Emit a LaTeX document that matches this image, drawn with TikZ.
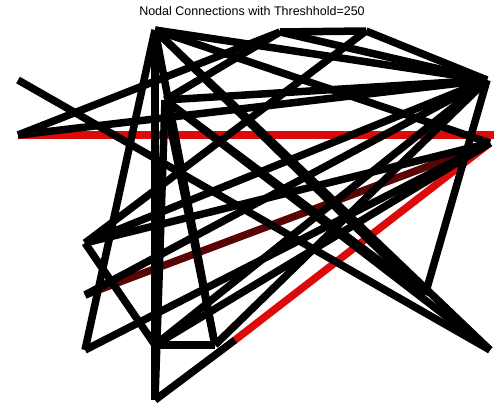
\documentclass[tikz,border=0pt]{standalone}
\usepackage{fontspec}
\setmainfont{Liberation Sans}
\usepackage{tikz}

\definecolor{linkred}{RGB}{220,10,10}
\definecolor{linkdark}{RGB}{90,5,5}

\begin{document}
\begin{tikzpicture}[
    x=1pt, y=-1pt,
    link/.style     = {line width=7.5pt, black},
    hotlink/.style  = {link, draw=linkred},
    warmlink/.style = {link, draw=linkdark},
    title/.style    = {font=\fontsize{12.5}{14}\selectfont, text=black}
]
\useasboundingbox (0,0) rectangle (494,404);

\node[title] (ttl) at (252,11) {Nodal Connections with Threshhold=250};

% ========= nodes =========
\coordinate (apex)  at (155,30);
\coordinate (topb)  at (280,32);
\coordinate (topc)  at (366,31);
\coordinate (hub)   at (487,80);
\coordinate (lefte) at (18,80);
\coordinate (leftf) at (18,135);
\coordinate (rgtg)  at (494,135);
\coordinate (rgth)  at (490,143);
\coordinate (lowi)  at (490,350);
\coordinate (midj)  at (425,295);
\coordinate (lfk)   at (85,243);
\coordinate (lfl)   at (85,295);
\coordinate (lfm)   at (85,350);
\coordinate (botn)  at (155,400);
\coordinate (boto)  at (215,345);
\coordinate (botp)  at (235,340);
\coordinate (inq)   at (165,100);
\coordinate (botr)  at (155,345);

% ========= coloured links (underneath) =========
\draw[warmlink] (lfl) -- (rgth);
\draw[hotlink] (leftf) -- (rgtg);
\draw[hotlink] (botp) -- (rgth);

% ========= black links =========
\draw[link] (apex) -- (botn);
\draw[link] (apex) -- (lfm);
\draw[link] (apex) -- (lowi);
\draw[link] (apex) -- (hub);
\draw[link] (apex) -- (rgth);
\draw[link] (apex) -- (boto);
\draw[link] (apex) -- (midj);
\draw[link] (topb) -- (topc);
\draw[link] (topc) -- (hub);
\draw[link] (topb) -- (hub);
\draw[link] (leftf) -- (topb);
\draw[link] (leftf) -- (hub);
\draw[link] (topc) -- (lfk);
\draw[link] (topb) -- (inq);
\draw[link] (inq) -- (hub);
\draw[link] (inq) -- (lowi);
\draw[link] (inq) -- (midj);
\draw[link] (inq) -- (boto);
\draw[link] (inq) -- (botn);
\draw[link] (hub) -- (midj);
\draw[link] (lefte) -- (lowi);
\draw[link] (hub) -- (lfk);
\draw[link] (hub) -- (boto);
\draw[link] (hub) -- (botr);
\draw[link] (hub) -- (lfl);
\draw[link] (botr) -- (rgth);
\draw[link] (rgth) -- (lfm);
\draw[link] (lfk) -- (rgth);
\draw[link] (lfk) -- (botr);
\draw[link] (botr) -- (boto);
\draw[link] (botn) -- (botp);

\end{tikzpicture}
\end{document}
